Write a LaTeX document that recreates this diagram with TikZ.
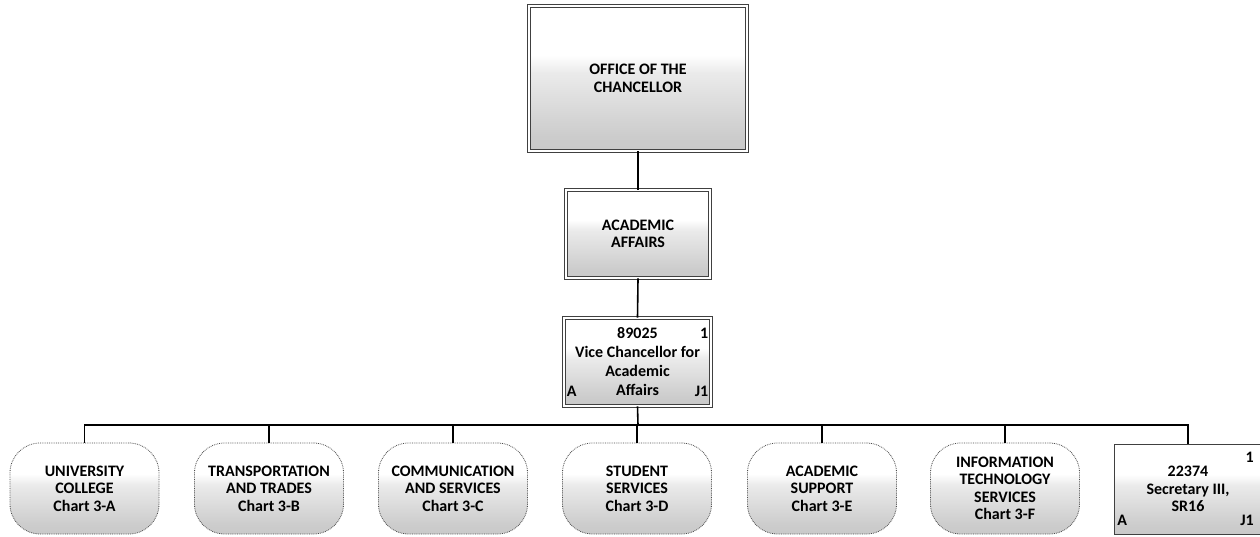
\documentclass[tikz,border=0pt]{standalone}
\usepackage{fontspec}
\setmainfont{Carlito}
\pgfdeclareverticalshading{boxshade}{100bp}{color(0bp)=(black!26); color(30bp)=(black!20); color(52bp)=(black!8); color(58bp)=(white); color(100bp)=(white)}
\tikzset{
  x=1pt, y=-1pt,
  txt/.style={font=\bfseries\fontsize{16}{17.5}\selectfont, align=center, text=black},
  sqbox/.style={txt, shading=boxshade, draw=black!75, line width=0.9pt, double=white, double distance=1.6pt, inner sep=0pt},
  rbox/.style={txt, shading=boxshade, draw=black!70, line width=0.8pt, densely dotted, rounded corners=30pt, minimum width=149pt, minimum height=91pt, inner sep=0pt},
  conn/.style={line width=1.6pt, black},
  corner/.style={font=\bfseries\fontsize{16}{17.5}\selectfont, inner sep=2pt}
}
\begin{document}
\begin{tikzpicture}
\useasboundingbox (0,0) rectangle (1260,537);
\fill[white] (0,0) rectangle (1260,537);

\node[sqbox, minimum width=218pt, minimum height=145pt] (chan) at (638,78.5) {OFFICE OF THE\\CHANCELLOR};
\node[sqbox, minimum width=144pt, minimum height=88pt] (aa) at (638,234) {ACADEMIC\\AFFAIRS};
\node[sqbox, minimum width=147pt, minimum height=88pt, font=\bfseries\fontsize{16}{19}\selectfont] (vc) at (637.5,362) {89025\\Vice Chancellor for\\Academic\\Affairs};
\node[corner, anchor=north east] (vc1) at ([xshift=-1pt,yshift=-8pt]vc.north east) {1};
\node[corner, anchor=base west] (vcA) at ([xshift=1pt,yshift=10pt]vc.south west) {A};
\node[corner, anchor=base east] (vcJ) at ([xshift=-1pt,yshift=10pt]vc.south east) {J1};

\node[rbox] (b1) at (84.5,488.5) {UNIVERSITY\\COLLEGE\\Chart 3-A};
\node[rbox] (b2) at (269,488.5) {TRANSPORTATION\\AND TRADES\\Chart 3-B};
\node[rbox] (b3) at (453,488.5) {COMMUNICATION\\AND SERVICES\\Chart 3-C};
\node[rbox] (b4) at (637,488.5) {STUDENT\\SERVICES\\Chart 3-D};
\node[rbox] (b5) at (822,488.5) {ACADEMIC\\SUPPORT\\Chart 3-E};
\node[rbox] (b6) at (1005,488.5) {INFORMATION\\TECHNOLOGY\\SERVICES\\Chart 3-F};
\node[txt, draw=black!75, line width=0.9pt, shading=boxshade, minimum width=147pt, minimum height=90pt, inner sep=0pt, text depth=0pt] (sec) at (1188,489) {22374\\Secretary III,\\SR16};
\node[corner, anchor=north east] (sec1) at ([xshift=-6pt,yshift=-6pt]sec.north east) {1};
\node[corner, anchor=base west] (secA) at ([xshift=1pt,yshift=9pt]sec.south west) {A};
\node[corner, anchor=base east] (secJ) at ([xshift=-6pt,yshift=9pt]sec.south east) {J1};

\coordinate (bus) at (638,425);
\draw[conn] (chan.south) -- (aa.north);
\draw[conn] (aa.south) -- (vc.north);
\draw[conn] (vc.south) -- (bus);
\foreach \n in {b1,b2,b3,b4,b5,b6,sec}
  \draw[conn] (bus) -| (\n.north);
\end{tikzpicture}
\end{document}
